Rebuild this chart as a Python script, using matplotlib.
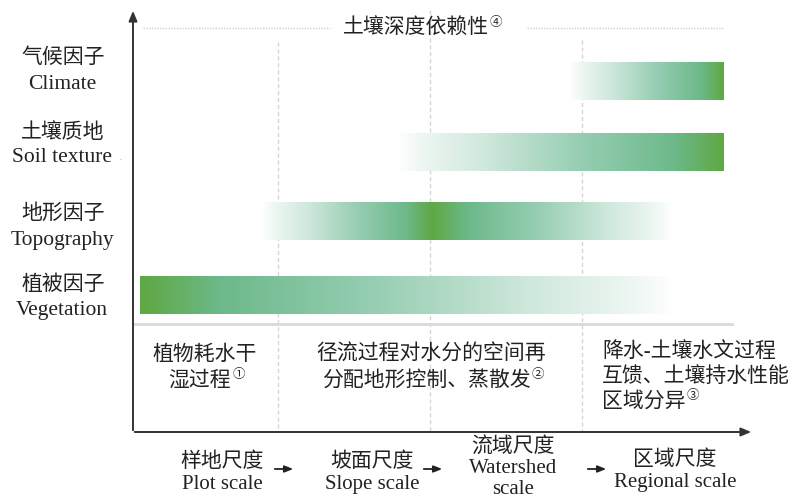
import numpy as np
import matplotlib
matplotlib.use("Agg")
import matplotlib.pyplot as plt
from matplotlib.colors import LinearSegmentedColormap

FONT = ['Liberation Serif', 'Noto Sans CJK SC']
plt.rcParams['font.family'] = FONT

# ---------------- data ----------------
factors_cn = ["气候因子", "土壤质地", "地形因子", "植被因子"]
factors_en = ["Climate", "Soil texture", "Topography", "Vegetation"]
label_cn_y = [58, 133, 214, 285]
label_en_y = [84, 158, 241, 310]
bar_y = [81, 152, 221, 295]            # centre of each factor row
bar_start = [570, 398, 262, 140]        # where influence begins (fade-in)
bar_peak = [724, 724, 432, 140]         # strongest dependence
bar_end = [724, 724, 672, 672]          # where influence ends (fade-out)
scale_dividers = [278, 430, 582]
process_lines = [["植物耗水干", "湿过程"],
                 ["径流过程对水分的空间再", "分配地形控制、蒸散发"],
                 ["降水-土壤水文过程", "互馈、土壤持水性能", "区域分异"]]
process_marks = ["①", "②", "③"]
scale_labels = ["样地尺度\nPlot scale", "坡面尺度\nSlope scale",
                "流域尺度\nWatershed\nscale", "区域尺度\nRegional scale"]
scale_label_x = [222, 372, 513, 675]
title_text = "土壤深度依赖性"
title_mark = "④"

W, H = 795, 501
fig = plt.figure(figsize=(W / 100, H / 100), dpi=100)
ax = fig.add_axes([0, 0, 1, 1])
ax.set_xlim(0, W)
ax.set_ylim(H, 0)
ax.axis('off')
renderer = fig.canvas.get_renderer()

FS = 15
TC = "#222222"

cmap = LinearSegmentedColormap.from_list(
    "g", [(0, "#ffffff"), (0.35, "#cfe8dc"), (0.65, "#93ccb0"),
          (0.88, "#6cb98a"), (1.0, "#5fa843")])

BAR_H = 38
for y, s, p, e in zip(bar_y, bar_start, bar_peak, bar_end):
    xs = np.linspace(s, e, 600)
    v = np.zeros_like(xs)
    if p > s:
        m = xs <= p
        v[m] = (xs[m] - s) / (p - s)
    if e > p:
        m = xs >= p
        v[m] = np.maximum(v[m], (e - xs[m]) / (e - p))
    v = np.clip(v, 0, 1) ** 0.8
    ax.imshow(v[None, :], cmap=cmap, vmin=0, vmax=1, aspect='auto',
              extent=(s, e, y + BAR_H / 2, y - BAR_H / 2), zorder=2,
              interpolation='bilinear')


def sup_after(t, mark):
    """place a small superscript mark right after text t"""
    bb = t.get_window_extent(renderer)
    inv = ax.transData.inverted()
    (x1, y1) = inv.transform((bb.x1, bb.y1))
    ax.text(x1 + 1, y1 - 3, mark, ha='left', va='top', fontsize=9,
            family=['Noto Sans CJK SC'], color=TC)


# dividers (dashed light grey)
div_top = [42, 10, 40]
for x, t in zip(scale_dividers, div_top):
    ax.plot([x, x], [t, 432], color="#d6d6d6", lw=1, ls=(0, (3, 2)), zorder=1)

# top dotted line with title
ax.plot([143, 330], [28, 28], color="#cfcfcf", lw=1, ls=(0, (1, 1)), zorder=1)
ax.plot([527, 724], [28, 28], color="#cfcfcf", lw=1, ls=(0, (1, 1)), zorder=1)
tt = ax.text(343, 29, title_text, ha='left', va='center', fontsize=FS, color=TC)
sup_after(tt, title_mark)

# grey separator line
ax.plot([133, 732], [324, 324], color="#d9d9d9", lw=2, zorder=1)

# axes arrows
ax.annotate("", xy=(133, 8), xytext=(133, 433),
            arrowprops=dict(arrowstyle="-|>,head_length=0.6,head_width=0.25",
                            color="#333333", lw=1.4))
ax.annotate("", xy=(754, 432), xytext=(132, 432),
            arrowprops=dict(arrowstyle="-|>,head_length=0.6,head_width=0.25",
                            color="#333333", lw=1.4))

# factor labels
for cy, ey, cn, en in zip(label_cn_y, label_en_y, factors_cn, factors_en):
    ax.text(63, cy, cn, ha='center', va='center', fontsize=FS, color=TC)
    ax.text(62, ey, en, ha='center', va='center', fontsize=15.5, color=TC)
ax.text(121, 160, "·", ha='center', va='center', fontsize=8, color="#bbbbbb")

# process texts
proc_x = [205, 431, 602]
proc_ha = ['center', 'center', 'left']
proc_y0 = [355, 355, 352]
proc_dy = [26, 26, 25]
for lines, mark, x, ha, y0, dy in zip(process_lines, process_marks, proc_x,
                                      proc_ha, proc_y0, proc_dy):
    for i, line in enumerate(lines):
        xx = x
        if ha == 'center' and i == len(lines) - 1:
            xx = x - 5
        t = ax.text(xx, y0 + i * dy, line, ha=ha, va='center', fontsize=FS, color=TC)
    sup_after(t, mark)

# scale labels
scale_label_y = [473, 473, 468, 471]
scale_ls = [1.25, 1.25, 1.12, 1.25]
for x, lab, y, ls in zip(scale_label_x, scale_labels, scale_label_y, scale_ls):
    ax.text(x, y, lab, ha='center', va='center', fontsize=FS,
            linespacing=ls, color=TC)

# small arrows between scales
for x0, x1 in [(272, 296), (421, 445), (585, 609)]:
    ax.annotate("", xy=(x1, 469), xytext=(x0, 469),
                arrowprops=dict(arrowstyle="-|>,head_length=0.5,head_width=0.2",
                                color="#222222", lw=1.3))

fig.savefig("out.png", dpi=100)
